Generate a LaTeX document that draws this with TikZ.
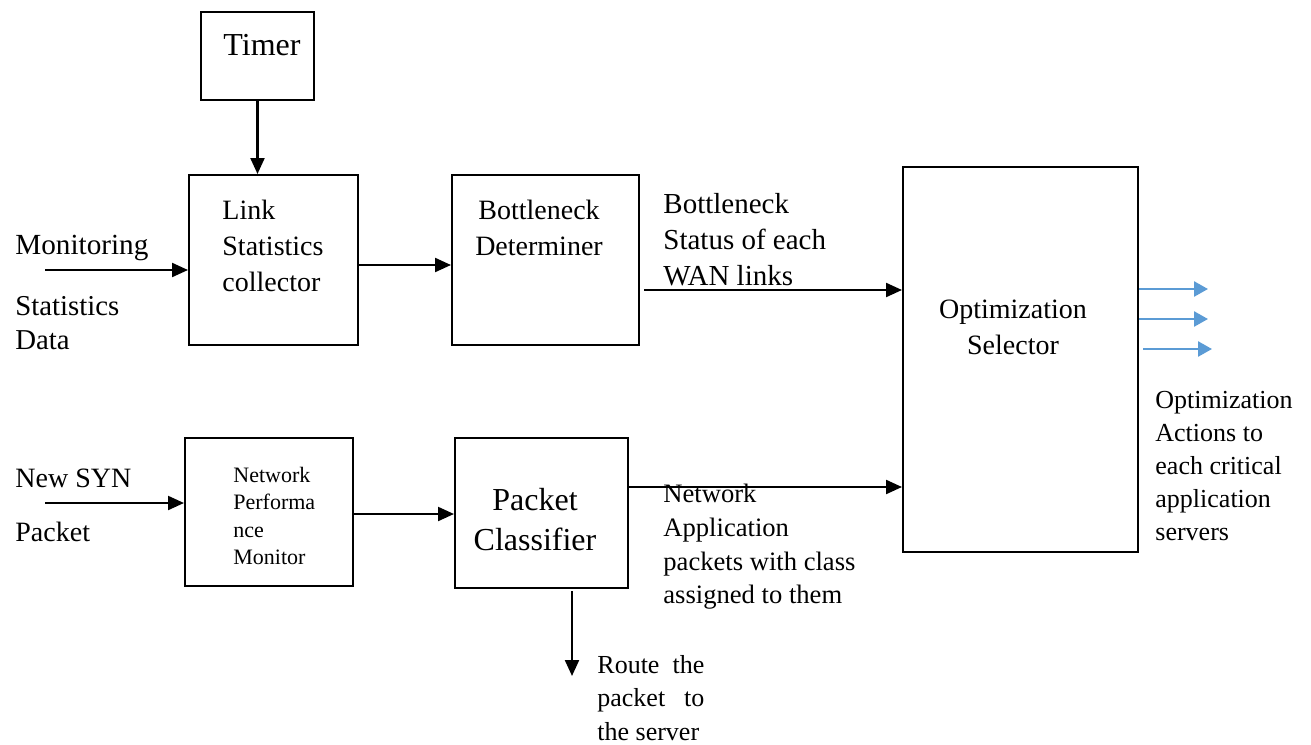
\documentclass[tikz,border=0pt]{standalone}
\usepackage{fontspec}
\setmainfont{Liberation Serif}
\usetikzlibrary{arrows.meta,calc,positioning}
\definecolor{outblue}{RGB}{91,155,213}

\begin{document}
\begin{tikzpicture}[x=0.5pt,y=-0.5pt,
  blk/.style={draw,line width=1pt,inner sep=0pt},
  lbl/.style={inner sep=0pt,align=left,font=\fontsize{14}{18}\selectfont},
  flow/.style={line width=1.1pt,-{Triangle[length=8pt,width=7pt]}},
  outflow/.style={outblue,line width=1.3pt,-{Triangle[length=7pt,width=7.5pt]}}
]
\useasboundingbox (0,0) rectangle (1311,744);
\node[blk,minimum width=56.5pt,minimum height=44pt] (timer) at (257.5,56) {};
\node[blk,minimum width=84.5pt,minimum height=85pt] (lsc) at (273.5,260) {};
\node[blk,minimum width=93.5pt,minimum height=85pt] (bd) at (545.5,260) {};
\node[blk,minimum width=117.5pt,minimum height=192.5pt] (opt) at (1020.5,359.5) {};
\node[blk,minimum width=84pt,minimum height=74pt] (npm) at (269,512) {};
\node[blk,minimum width=86.5pt,minimum height=75pt] (pc) at (541.5,513) {};

\node[lbl,font=\fontsize{16}{19}\selectfont] (timertxt) at (262,45) {Timer};
\node[lbl,anchor=west] (lsctxt) at (222,246) {Link\\Statistics\\collector};
\node[lbl,align=center] (bdtxt) at (539,228) {Bottleneck\\Determiner};
\node[lbl,align=center] (opttxt) at (1013,327) {Optimization\\Selector};
\node[lbl,anchor=west,font=\fontsize{11}{13.75}\selectfont] (npmtxt) at (233,516)
  {Network\\Performa\\nce\\Monitor};
\node[lbl,align=center,font=\fontsize{16}{20}\selectfont] (pctxt) at (535,520)
  {Packet\\Classifier};

\node[lbl,anchor=west,font=\fontsize{14.6}{18}\selectfont] (montxt) at (15,248) {Monitoring};
\node[lbl,anchor=west,font=\fontsize{14.4}{17}\selectfont] (stattxt) at (15,323)
  {Statistics\\Data};
\node[lbl,anchor=west] (syntxt) at (15,478) {New SYN};
\node[lbl,anchor=west] (pkttxt) at (15,532) {Packet};
\node[lbl,anchor=west,font=\fontsize{14.5}{18}\selectfont] (bstxt) at (663,240)
  {Bottleneck\\Status of each\\WAN links};
\node[lbl,anchor=west,font=\fontsize{13.3}{16.8}\selectfont] (natxt) at (663,547)
  {Network\\Application\\packets with class\\assigned to them};
\node[lbl,anchor=west,font=\fontsize{13}{16.5}\selectfont] (oatxt) at (1155,466)
  {Optimization\\Actions to\\each critical\\application\\servers};
\node[lbl,anchor=west,font=\fontsize{13}{16.75}\selectfont] (rttxt) at (597,698)
  {\makebox[53.5pt][s]{Route the}\\\makebox[53.5pt][s]{packet to}\\the server};

\coordinate (monin) at (45,270);
\coordinate (synin) at (45,503);

\draw[flow] (timer.south) -- (timer.south |- lsc.north);
\draw[flow] (monin) -- (monin -| lsc.west);
\draw[flow] ([yshift=-2.5pt]lsc.east) -- ([yshift=-2.5pt]bd.west);
\draw[flow] ([shift={(2pt,-15pt)}]bd.east) coordinate (bdout) -- (bdout -| opt.west);
\draw[flow] (synin) -- (synin -| npm.west);
\draw[flow] ([yshift=-1pt]npm.east) -- ([yshift=-0.5pt]pc.west);
\draw[flow] ([yshift=13pt]pc.east) coordinate (pcout) -- (pcout -| opt.west);
\draw[flow] ([shift={(15.25pt,-1pt)}]pc.south) -- ++(0,-42.5pt);
\foreach \dy/\sx in {35.25/0,20.25/0,5.25/2}
  \draw[outflow] ([shift={(\sx pt,\dy pt)}]opt.east) -- ++(34.5pt,0);
\end{tikzpicture}
\end{document}
